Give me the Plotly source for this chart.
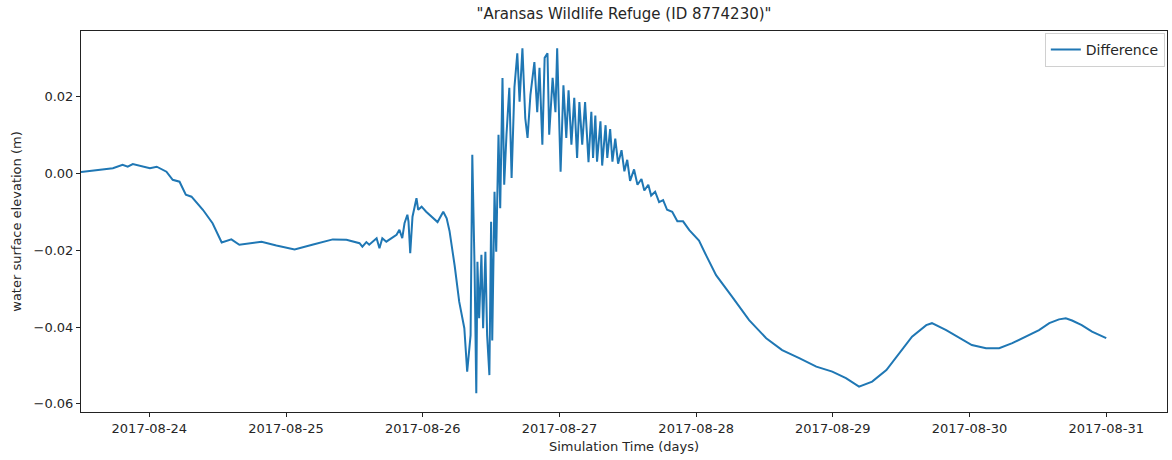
import pandas as pd
import plotly.graph_objects as go

# Modelled minus observed water level, Aransas Wildlife Refuge (station 8774230)
start_time = "2017-08-23 12:00"
hours = [
    0.0, 5.6, 7.3, 8.2, 9.1, 12.1, 13.3, 15.0, 16.1, 17.3, 18.4, 19.4, 21.4, 23.1,
    24.7, 26.4, 27.8, 31.7, 34.3, 37.5, 40.6, 44.2, 46.6, 48.4, 48.9, 49.4, 50.1,
    50.6, 51.2, 51.9, 52.4, 52.9, 53.6, 54.5, 55.4, 55.9, 56.4, 56.8, 57.3, 57.5,
    57.8, 58.2, 58.5, 58.9, 59.2, 59.8, 60.6, 61.5, 62.6, 63.6, 64.2, 64.7, 65.6,
    66.4, 67.3, 67.8, 68.4, 68.7, 69.1, 69.4, 69.6, 69.9, 70.3, 70.6, 71.0, 71.3,
    71.7, 72.0, 72.2, 72.6, 72.9, 73.3, 73.6,
    74.0, 74.3, 74.7, 75.2, 75.6, 76.1, 76.6, 77.0, 77.5, 78.0,
    78.4, 78.9, 79.6, 80.1, 80.5, 81.0, 81.4, 81.9, 82.2, 82.8,
    83.3, 83.6, 84.2, 84.7, 85.2, 85.6, 86.1, 86.6, 87.1, 87.5,
    88.0, 88.5, 89.1, 89.6, 89.9, 90.3, 90.6, 91.2, 91.5, 92.1,
    92.4, 92.9, 93.3, 93.8, 94.3, 94.9, 95.4, 95.9, 96.4, 97.1,
    97.7, 98.4, 98.9, 99.6, 100.1, 100.8, 101.5, 102.2, 102.9, 103.8,
    104.7, 105.7, 106.8,
    108.5, 109.8, 111.5, 114.3, 117.3, 120.3, 123.1, 126.1, 129.1, 131.9, 134.3,
    136.6, 138.9, 141.4, 143.6, 145.9, 148.4, 149.4, 151.9, 154.2, 156.4, 158.9,
    161.2, 163.5, 165.9, 168.2, 170.0, 171.7, 172.9, 174.0, 175.7, 177.5, 180.0,
]
difference_m = [
    0.0003, 0.0013, 0.0022, 0.0017, 0.0024, 0.0013, 0.0017, 0.0004, -0.0017, -0.0022,
    -0.0056, -0.0061, -0.0095, -0.0130, -0.0180, -0.0172, -0.0186, -0.0178, -0.0188,
    -0.0198, -0.0186, -0.0172, -0.0173, -0.0180, -0.0182, -0.0191, -0.0179, -0.0186,
    -0.0178, -0.0169, -0.0195, -0.0169, -0.0178, -0.0169, -0.0160, -0.0147, -0.0169,
    -0.0130, -0.0108, -0.0126, -0.0208, -0.0113, -0.0091, -0.0065, -0.0095, -0.0087,
    -0.0100, -0.0113, -0.0127, -0.0100, -0.0117, -0.0150, -0.0240, -0.0334, -0.0403,
    -0.0516, -0.0421, 0.0048, -0.0247, -0.0572, -0.0230, -0.0377, -0.0212, -0.0403,
    -0.0204, -0.0421, -0.0525, -0.0126, -0.0435, -0.0048, -0.0204, 0.0100, -0.0091,
    0.0248, -0.0030, 0.0100, 0.0222, -0.0012, 0.0224, 0.0312, 0.0186, 0.0325, 0.0143,
    0.0092, 0.0203, 0.0289, 0.0159, 0.0274, 0.0074, 0.0300, 0.0312, 0.0100, 0.0248,
    0.0159, 0.0325, 0.0004, 0.0229, 0.0092, 0.0216, 0.0074, 0.0196, 0.0040, 0.0185,
    0.0074, 0.0185, 0.0029, 0.0160, 0.0040, 0.0150, 0.0030, 0.0135, 0.0020, 0.0125,
    0.0040, 0.0115, 0.0030, 0.0090, 0.0025, 0.0060, 0.0005, 0.0035, -0.0020, 0.0010,
    -0.0030, -0.0015, -0.0045, -0.0030, -0.0058, -0.0048, -0.0075, -0.0070, -0.0095,
    -0.0100, -0.0125, -0.0125, -0.0148,
    -0.0175, -0.0215, -0.0265, -0.0321, -0.0382, -0.0429, -0.0460, -0.0481, -0.0503,
    -0.0516, -0.0533, -0.0555, -0.0542, -0.0512, -0.0468, -0.0425, -0.0395, -0.0390,
    -0.0408, -0.0429, -0.0447, -0.0455, -0.0455, -0.0442, -0.0425, -0.0408, -0.0390,
    -0.0380, -0.0377, -0.0383, -0.0395, -0.0412, -0.0429,
]
assert len(hours) == len(difference_m)

x_tick_dates = ["2017-08-24", "2017-08-25", "2017-08-26", "2017-08-27",
                "2017-08-28", "2017-08-29", "2017-08-30", "2017-08-31"]
y_tick_values = [-0.06, -0.04, -0.02, 0.00, 0.02]
y_tick_labels = ["\u22120.06", "\u22120.04", "\u22120.02", "0.00", "0.02"]

times = pd.Timestamp(start_time) + pd.to_timedelta(hours, unit="h")

font_family = "DejaVu Sans, Liberation Sans, sans-serif"
text_color = "#262626"

fig = go.Figure()
fig.add_trace(go.Scatter(
    x=times, y=difference_m, mode="lines", name="Difference",
    line=dict(color="#1f77b4", width=2),
))

axis_common = dict(
    showline=True, linecolor="#222222", linewidth=1, mirror=True,
    ticks="outside", ticklen=4, tickwidth=1, tickcolor="#222222",
    showgrid=False, zeroline=False,
    tickfont=dict(family=font_family, size=13, color=text_color),
)

fig.update_layout(
    width=1172, height=460,
    margin=dict(l=81, r=5, t=31, b=48),
    paper_bgcolor="white", plot_bgcolor="white",
    font=dict(family=font_family, size=13, color=text_color),
    title=dict(
        text="\"Aransas Wildlife Refuge (ID 8774230)\"",
        x=(81 + 1167) / 2 / 1172, xanchor="center",
        y=1 - 14 / 460, yanchor="middle",
        font=dict(family=font_family, size=15, color=text_color),
    ),
    xaxis=dict(
        axis_common,
        type="date",
        range=["2017-08-23 12:00", "2017-08-31 10:40"],
        tickvals=x_tick_dates, ticktext=x_tick_dates,
        title=dict(text="Simulation Time (days)", standoff=7,
                   font=dict(family=font_family, size=13, color=text_color)),
    ),
    yaxis=dict(
        axis_common,
        range=[-0.0621, 0.0370],
        tickvals=y_tick_values, ticktext=y_tick_labels,
        title=dict(text="water surface elevation (m)", standoff=9,
                   font=dict(family=font_family, size=13, color=text_color)),
    ),
    showlegend=True,
    legend=dict(
        x=0.998, y=0.995, xanchor="right", yanchor="top",
        bgcolor="rgba(255,255,255,0.85)", bordercolor="#d0d0d0", borderwidth=1,
        font=dict(family=font_family, size=14, color=text_color),
        itemwidth=30,
    ),
)

fig.write_html("out.html")
